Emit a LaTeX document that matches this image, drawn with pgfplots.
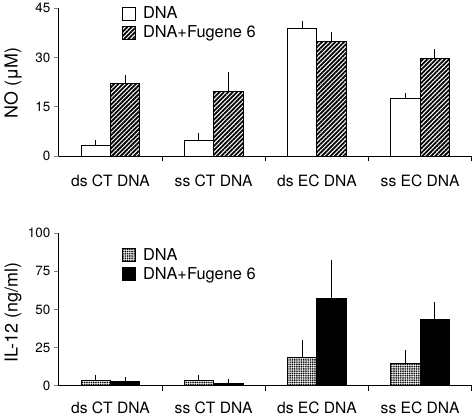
\documentclass[border=0pt]{standalone}
\usepackage{pgfplots}
\pgfplotsset{compat=1.18}
\usepackage{fontspec}
\setmainfont{TeX Gyre Heros}
\usetikzlibrary{patterns,patterns.meta}
\newcommand{\xtl}[1]{\fontsize{15.7}{18}\selectfont #1}
\begin{document}
\begin{tikzpicture}
\pgfplotsset{
  mybase/.style={
    scale only axis, width=414bp,
    xmin=-0.5, xmax=3.5,
    axis lines*=left,
    axis line style={line width=1.1bp},
    ybar=0pt, bar width=29.5bp,
    xtick={0,1,2,3},
    xticklabels={\xtl{ds CT DNA},\xtl{ss CT DNA},\xtl{ds EC DNA},\xtl{ss EC DNA}},
    x tick style={draw=none},
    extra x ticks={0.5,1.5,2.5,3.5},
    extra x tick labels={},
    extra x tick style={x tick style={draw=black,line width=1bp}, major tick length=5bp, tick align=outside},
    y tick style={line width=1bp},
    tick align=outside, major tick length=5bp,
    yticklabel style={font=\fontsize{13.5}{16}\selectfont},
    y label style={font=\fontsize{18}{20}\selectfont},
    /pgf/number format/assume math mode=true,
    legend cell align=left,
    legend style={draw=none, fill=none, inner sep=0pt, outer sep=0pt, row sep=5bp, column sep=7bp, font=\fontsize{16.5}{18}\selectfont, nodes={inner sep=0pt}},
  },
  sq/.style={legend image code/.code={\draw[##1,line width=1bp] (0bp,-6.5bp) rectangle (13.5bp,6.5bp);}},
  eb/.style={error bars/.cd, y dir=plus, y explicit,
     error bar style={line width=1bp, black},
     error mark options={black, mark size=3bp, line width=1bp}},
}
\begin{axis}[mybase, height=148.5bp, at={(0,0)}, anchor=south west,
  ymin=0, ymax=45, ytick={0,15,30,45},
  xticklabel style={anchor=base, yshift=-25.6bp},
  ylabel={NO (μM)},
  y label style={at={(axis description cs:-0.111,0.495)}, anchor=center},
  legend style={at={(0.152,1.01)}, anchor=north west},
]
\addplot[sq, draw=black, fill=white, line width=1bp, eb] coordinates {
  (0,3.2) +- (0,0.8)
  (1,4.8) +- (0,1.4)
  (2,38.9) +- (0,1.4)
  (3,17.4) +- (0,0.8)
};
\addplot[sq, draw=black, line width=1bp, pattern={Lines[angle=45,distance=3.1bp,line width=1.8bp]}, eb] coordinates {
  (0,22.2) +- (0,1.5)
  (1,19.6) +- (0,5.1)
  (2,34.9) +- (0,1.8)
  (3,29.8) +- (0,1.8)
};
\legend{DNA, DNA+Fugene 6}
\end{axis}
\begin{axis}[mybase, height=153.2bp, at={(0,-230.2bp)}, anchor=south west,
  ymin=0, ymax=100, ytick={0,25,50,75,100},
  xticklabel style={anchor=base, yshift=-22.3bp},
  ylabel={IL-12 (ng/ml)},
  y label style={at={(axis description cs:-0.111,0.48)}, anchor=center},
  legend style={at={(0.152,0.90)}, anchor=north west},
]
\addplot[sq, draw=black, line width=1bp, pattern={Dots[distance=1.8bp,radius=0.75bp]}, eb] coordinates {
  (0,3.3) +- (0,1.5)
  (1,3.3) +- (0,1.5)
  (2,18.5) +- (0,9.6)
  (3,14.4) +- (0,7.1)
};
\addplot[sq, draw=black, fill=black, line width=1bp, eb] coordinates {
  (0,2.9) +- (0,1.0)
  (1,1.6) +- (0,0.6)
  (2,57.2) +- (0,23.5)
  (3,43.3) +- (0,9.4)
};
\legend{DNA, DNA+Fugene 6}
\end{axis}
\path[use as bounding box] (-59bp,-256.5bp) rectangle (416bp,152.5bp);
\end{tikzpicture}
\end{document}
